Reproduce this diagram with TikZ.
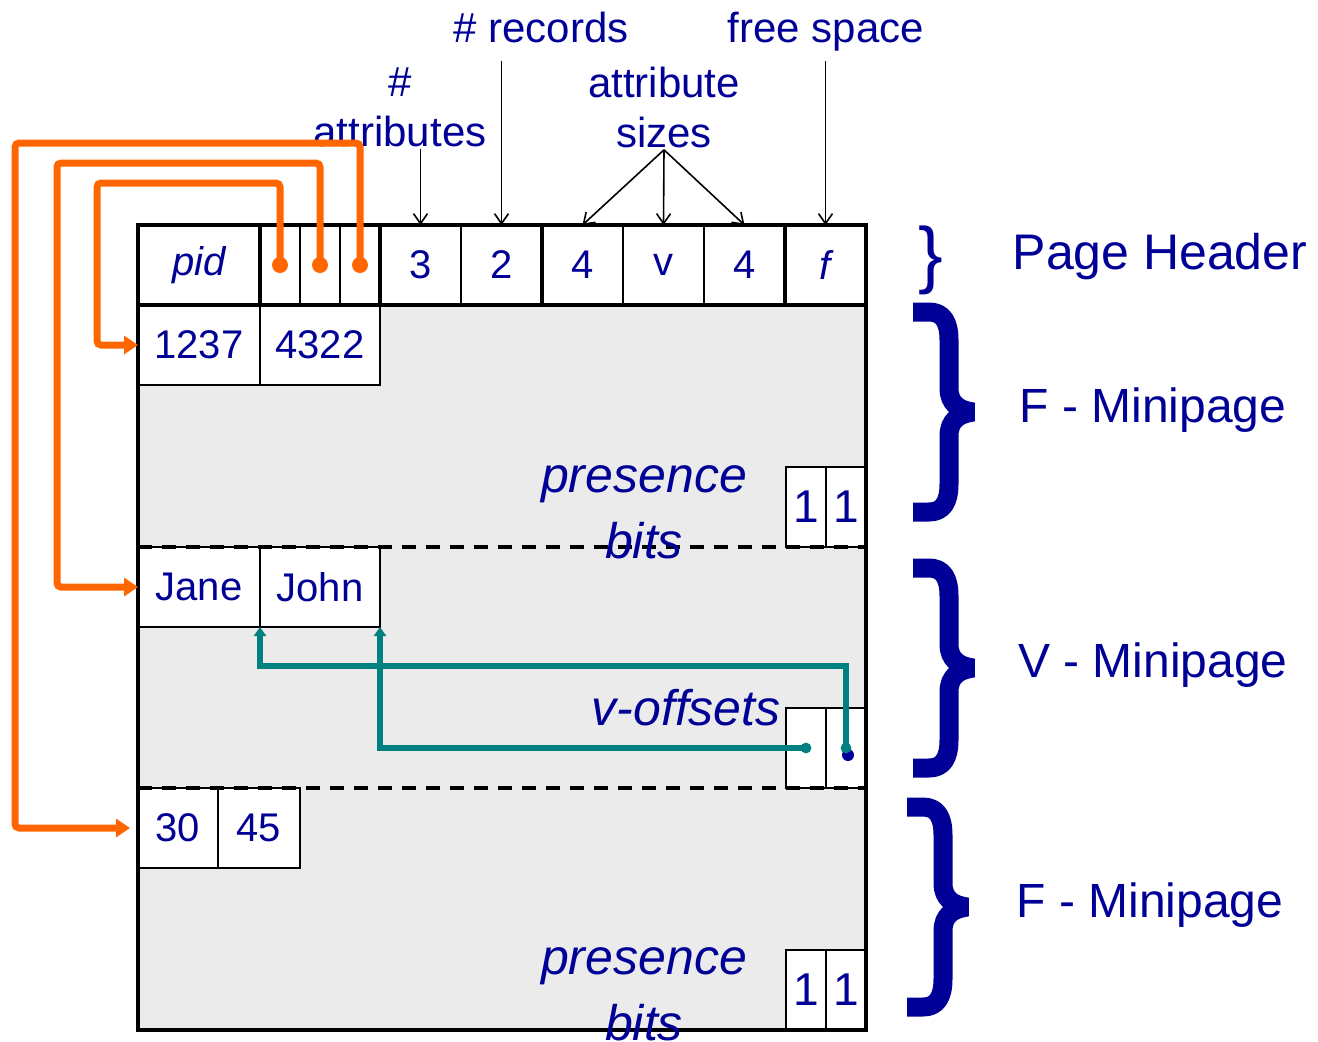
\documentclass[tikz,border=0pt]{standalone}
\usepackage{fontspec}
\setmainfont{Liberation Sans}
\usetikzlibrary{positioning,arrows.meta,calc}

\definecolor{ink}{HTML}{000096}
\definecolor{linkorange}{HTML}{FF6600}
\definecolor{offteal}{HTML}{008080}
\definecolor{pagegray}{HTML}{EBEBEB}

\begin{document}
\begin{tikzpicture}[
  x=0.5pt, y=-0.5pt,
  cell/.style={rectangle, draw=black, line width=1pt, fill=white,
               inner sep=0pt, outer sep=0pt, minimum height=40pt,
               text=ink, font=\fontsize{20}{24}\selectfont},
  bit/.style={cell, minimum width=20pt, font=\fontsize{23}{27}\selectfont},
  frame/.style={line width=1.6pt, draw=black},
  sep/.style={line width=1.6pt, draw=black, dash pattern=on 7pt off 5pt},
  note/.style={text=ink, align=center, inner sep=0pt,
               font=\fontsize{25}{33}\selectfont\itshape},
  tag/.style={text=ink, align=center, inner sep=1pt,
              font=\fontsize{21}{25}\selectfont},
  side/.style={text=ink, font=\fontsize{24}{28}\selectfont},
  pointer/.style={-{Straight Barb[length=5pt,width=7pt]}, line width=0.8pt},
  link/.style={draw=linkorange, line width=3.5pt, rounded corners=2pt,
               -{Triangle[length=7pt,width=9pt]}},
  voff/.style={draw=offteal, line width=3pt,
               -{Triangle[length=4.5pt,width=6pt]}},
  fatbrace/.pic={
    \draw[draw=ink, line width=9.5pt, line join=bevel]
      (0,0) -- (16,0) .. controls (30,0) and (36,10) .. (36,28)
      -- (36,76) .. controls (36,92) and (46,98) .. (60,100)
      .. controls (46,102) and (36,108) .. (36,124)
      -- (36,172) .. controls (36,190) and (30,200) .. (16,200) -- (0,200);
  }
]
\useasboundingbox (0,0) rectangle (1318,1041);

% Page body
\fill[pagegray] (138,305) rectangle (866,1030);

% Header row
\node[cell, minimum width=61pt, anchor=north west,
      font=\fontsize{20}{24}\selectfont\itshape] (pid) at (138,225) {pid};
\node[cell, minimum width=20pt, right=0pt of pid]  (ptr1) {};
\node[cell, minimum width=20pt, right=0pt of ptr1] (ptr2) {};
\node[cell, minimum width=20pt, right=0pt of ptr2] (ptr3) {};
\node[cell, minimum width=40.5pt, right=0pt of ptr3] (natt) {3};
\node[cell, minimum width=40.5pt, right=0pt of natt] (nrec) {2};
\node[cell, minimum width=40.5pt, right=0pt of nrec] (sz1) {4};
\node[cell, minimum width=40.5pt, right=0pt of sz1]  (sz2) {v};
\node[cell, minimum width=40.5pt, right=0pt of sz2]  (sz3) {4};
\node[cell, minimum width=40.5pt, right=0pt of sz3,
      font=\fontsize{20}{24}\selectfont\itshape] (free) {f};

% First F-minipage
\node[cell, minimum width=61pt, anchor=north west] (r1a) at (pid.south west) {1237};
\node[cell, minimum width=60pt, right=0pt of r1a] (r1b) {4322};
\node[bit, anchor=south east] (pb1b) at (866,547) {1};
\node[bit, left=0pt of pb1b] (pb1a) {1};

% V-minipage
\node[cell, minimum width=61pt, anchor=north west] (r2a) at (138,547) {Jane};
\node[cell, minimum width=60pt, right=0pt of r2a] (r2b) {John};
\node[cell, anchor=south east, minimum width=20pt] (vo2) at (866,788) {};
\node[cell, left=0pt of vo2, minimum width=20pt] (vo1) {};

% Second F-minipage
\node[cell, minimum width=40pt, anchor=north west] (r3a) at (138,788) {30};
\node[cell, minimum width=41pt, right=0pt of r3a] (r3b) {45};
\node[bit, anchor=south east] (pb2b) at (866,1030) {1};
\node[bit, left=0pt of pb2b] (pb2a) {1};

% Outline and group rules
\draw[frame] (138,225) rectangle (866,1030);
\draw[frame] (pid.south west) -- (free.south east);
\foreach \c in {pid,ptr3,nrec,sz3}
  \draw[frame] (\c.north east) -- (\c.south east);
\draw[sep] (138,547) -- (866,547);
\draw[sep] (138,788) -- (866,788);

% Minipage notes
\node[note] (pbits1) at (644,512) {presence\\bits};
\node[note, anchor=base east] (vlbl) at (781,725) {v-offsets};
\node[note] (pbits2) at (644,994) {presence\\bits};

% Header fields
\node[tag, anchor=base] (reclbl) at (541,42) {\# records};
\node[tag, anchor=base] (freelbl) at (826,42) {free space};
\node[tag] (attrlbl) at (400,107) {\#\\attributes};
\node[tag] (sizelbl) at (664,107) {attribute\\sizes};

\draw[pointer] (attrlbl.south -| natt.north) -- (natt.north);
\draw[pointer, shorten <=8pt] (reclbl.south -| nrec.north) -- (nrec.north);
\draw[pointer, shorten <=4pt] (freelbl.south -| free.north) -- (free.north);
\foreach \c in {sz1,sz2,sz3}
  \draw[pointer] (sizelbl.south) -- (\c.north);

% Minipage pointers
\draw[link] (ptr1.center) |- (97,183) |- (r1a.west);
\draw[link] (ptr2.center) |- (57,163) |- (r2a.west);
\draw[link, shorten >=4pt] (ptr3.center) |- (15,143) |- (r3a.west);
\foreach \c in {ptr1,ptr2,ptr3}
  \fill[linkorange] (\c.center) circle (4pt);

% Variable-length offsets
\fill[ink] ($(vo2.center)+(2,7)$) circle (3pt);
\draw[voff] (vo1.center) -| (r2b.south east);
\draw[voff] (vo2.center) |- ($(r2a.south east)+(0,39)$) -- (r2a.south east);
\fill[offteal] (vo1.center) circle (2.7pt);
\fill[offteal] (vo2.center) circle (2.7pt);

% Braces and section names
\node[text=ink, inner sep=0pt, font=\fontsize{37}{40}\selectfont] (hdrbrace) at (931,260) {\}};
\node[side, font=\fontsize{25}{30}\selectfont] (hdrlbl) at (1160,257) {Page Header};

\pic at (913,312) {fatbrace};
\node[side] (f1lbl) at (1153,410) {F - Minipage};

\pic at (913,568) {fatbrace};
\node[side] (vlbl2) at (1153,665) {V - Minipage};

\pic at (907,807) {fatbrace};
\node[side] (f2lbl) at (1150,905) {F - Minipage};

\end{tikzpicture}
\end{document}
